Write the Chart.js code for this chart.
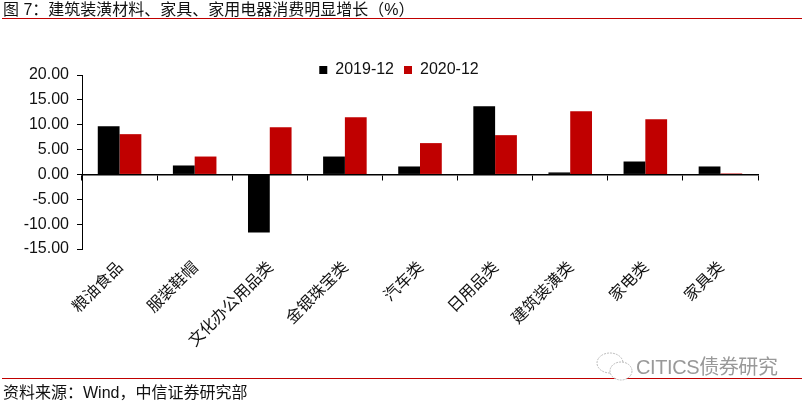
<!DOCTYPE html>
<html>
<head>
<meta charset="utf-8">
<script src="https://cdn.jsdelivr.net/npm/chart.js@4/dist/chart.umd.min.js"></script>
<style>
    html, body { margin: 0; padding: 0; background: #fff; }
    #page { position: relative; width: 802px; height: 402px; overflow: hidden; font-family: "Liberation Sans", "Noto Sans CJK SC", sans-serif; color: #111; }
    #chart { position: absolute; left: 0; top: 0; }
    .note { position: absolute; left: 3px; font-size: 16px; line-height: 20px; white-space: nowrap; }
    .rule { position: absolute; left: 2px; right: 0; height: 1px; background: #C00000; }
    #mark { position: absolute; left: 596px; top: 352px; display: flex; align-items: center; color: #999; font-size: 20px; line-height: 26px; letter-spacing: -0.4px; white-space: nowrap; }
</style>
</head>
<body>
<div id="page">
    <canvas id="chart" width="802" height="402"></canvas>
    <div class="note" style="top: 0">图 7：建筑装潢材料、家具、家用电器消费明显增长（%）</div>
    <div class="rule" style="top: 18px"></div>
    <div class="rule" style="top: 378px"></div>
    <div class="note" style="top: 383px">资料来源：Wind，中信证券研究部</div>
    <div id="mark">
        <svg width="40" height="30" viewBox="0 0 40 30" fill="#fff" stroke="#bbb" stroke-width="1" stroke-dasharray="2 1">
            <ellipse cx="14" cy="11" rx="13" ry="10"/>
            <ellipse cx="25" cy="19" rx="11" ry="9"/>
        </svg>
        <span>CITICS债券研究</span>
    </div>
</div>
<script>
const categories = ['粮油食品', '服装鞋帽', '文化办公用品类', '金银珠宝类', '汽车类', '日用品类', '建筑装潢类', '家电类', '家具类'];
const seriesNames = ['2019-12', '2020-12'];
const values2019 = [9.7, 1.8, -11.7, 3.6, 1.6, 13.7, 0.4, 2.6, 1.6];
const values2020 = [8.1, 3.6, 9.5, 11.5, 6.3, 7.9, 12.7, 11.1, 0.2];

const axisFont = {family: '"Liberation Sans", Arial, sans-serif', size: 16};
const textColor = '#111';

// legend sits partly over the top of the plot, so move it after layout
const legendNudge = {
    id: 'legendNudge',
    afterLayout(chart) {
        chart.legend.top += 13;
        chart.legend.left += 20;
        chart.legend.right += 20;
    }
};

new Chart(document.getElementById('chart').getContext('2d'), {
    type: 'bar',
    data: {
        labels: categories,
        datasets: [
            {label: seriesNames[0], data: values2019, backgroundColor: '#000000'},
            {label: seriesNames[1], data: values2020, backgroundColor: '#C00000'}
        ]
    },
    options: {
        responsive: false,
        animation: false,
        categoryPercentage: 0.58,
        barPercentage: 1,
        layout: {padding: {top: 39, right: 44, bottom: 0, left: 0}},
        plugins: {
            tooltip: {enabled: false},
            legend: {
                position: 'top',
                labels: {
                    boxWidth: 8,
                    boxHeight: 8,
                    padding: 10,
                    color: textColor,
                    font: axisFont
                }
            }
        },
        scales: {
            x: {
                axis: 'x',
                position: {y: 0},
                offset: true,
                border: {color: '#000', width: 1.5},
                grid: {offset: true, drawOnChartArea: false, color: '#000', tickLength: 5},
                ticks: {display: false}
            },
            x2: {
                axis: 'x',
                type: 'category',
                labels: categories,
                position: 'bottom',
                offset: true,
                border: {display: false},
                grid: {display: false},
                ticks: {
                    color: textColor,
                    font: {family: '"Noto Sans CJK SC", sans-serif', size: 16},
                    minRotation: 45,
                    maxRotation: 45,
                    autoSkip: false,
                    padding: 0
                },
                afterFit(scale) {
                    scale.height = 402 - 249;
                }
            },
            y: {
                min: -15,
                max: 20,
                border: {color: '#000', width: 1},
                grid: {drawOnChartArea: false, color: '#000', tickLength: 5},
                ticks: {
                    stepSize: 5,
                    padding: 8,
                    color: textColor,
                    font: axisFont,
                    callback: v => v.toFixed(2)
                },
                afterFit(scale) {
                    scale.width = 82;
                }
            }
        }
    },
    plugins: [legendNudge]
});
</script>
</body>
</html>
